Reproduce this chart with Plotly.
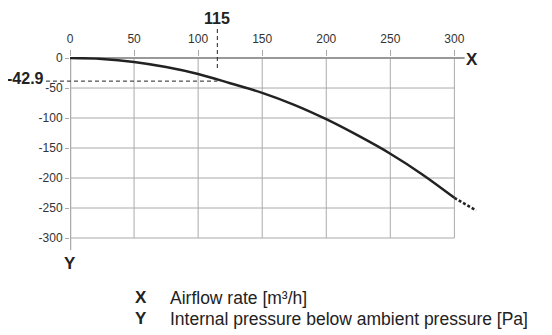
import plotly.graph_objects as go

# curve
flow = [0, 25, 50, 75, 100, 125, 150, 175, 200, 225, 250, 275, 300]
pressure = [0, -1.5, -6.5, -15, -26.6, -42, -58, -78, -102, -129.5, -159.5, -194, -233]
flow_ext = [300, 317]
pressure_ext = [-233, -254]

x_ticks = [0, 50, 100, 150, 200, 250, 300]
y_ticks = [0, -50, -100, -150, -200, -250, -300]

mark_x = 115
mark_y = -38.5  # where the dashed line sits in the drawing
mark_x_text = "115"
mark_y_text = "-42.9"

legend_rows = [("X", "Airflow rate [m³/h]"), ("Y", "Internal pressure below ambient pressure [Pa]")]

FONT = "Liberation Sans, Arial, sans-serif"
GRID = "#aaaaaa"
INK = "#222222"

W, H = 552, 335
OFF = 8  # page body margin in the browser
left, top = 70 - OFF, 57 - OFF
plot_w, plot_h = 409.6, 193.2
right, bottom = W - left - plot_w, H - top - plot_h


def px(x, y):
    """page pixel -> paper coords"""
    return (x - OFF - left) / plot_w, 1 - (y - OFF - top) / plot_h


def label(x, y, text, size, bold=True, xanchor="center"):
    ax, ay = px(x, y)
    fig.add_annotation(x=ax, y=ay, xref="paper", yref="paper", xanchor=xanchor, yanchor="middle",
                       text=text, showarrow=False, borderpad=0,
                       font=dict(size=size, color=INK, family=FONT, weight="bold" if bold else "normal"))


fig = go.Figure()
fig.add_trace(go.Scatter(x=flow, y=pressure, mode="lines",
                         line=dict(color=INK, width=2.5, shape="spline")))
fig.add_trace(go.Scatter(x=flow_ext, y=pressure_ext, mode="lines",
                         line=dict(color=INK, width=2.5, dash="3px,2px")))

# grid limited to the 0..300 box
for xv in x_ticks[1:]:
    fig.add_shape(type="line", x0=xv, x1=xv, y0=0, y1=min(y_ticks),
                  line=dict(color=GRID, width=1), layer="below")
for yv in y_ticks[1:]:
    fig.add_shape(type="line", x0=0, x1=max(x_ticks), y0=yv, y1=yv,
                  line=dict(color=GRID, width=1), layer="below")
# axis lines
fig.add_shape(type="line", x0=0, x1=308, y0=0, y1=0, line=dict(color="#999999", width=2), layer="below")
fig.add_shape(type="line", x0=0, x1=0, y0=0, y1=-320, line=dict(color="#aaaaaa", width=2.5), layer="below")

# marker dashed lines (paper y for the part above the plot)
_, vy0 = px(0, 29)
_, vy1 = px(0, 71)
fig.add_shape(type="line", xref="x", yref="paper", x0=mark_x, x1=mark_x, y0=vy0, y1=vy1,
              line=dict(color=INK, width=1, dash="4px,3px"))
hx0, _ = px(46, 0)
fig.add_shape(type="line", xref="paper", yref="y", x0=hx0, x1=mark_x / 320, y0=mark_y, y1=mark_y,
              line=dict(color=INK, width=1, dash="4px,3px"))

label(217, 18, mark_x_text, 16)
label(45, 79, mark_y_text, 16, xanchor="right")
label(465, 60, "X", 17, xanchor="left")
label(70, 264, "Y", 17)

for i, (key, desc) in enumerate(legend_rows):
    label(134, 298 + i * 21, key, 17, xanchor="left")
    label(169, 298 + i * 21, desc, 17.5, bold=False, xanchor="left")

fig.update_layout(
    width=W, height=H,
    margin=dict(l=left, r=right, t=top, b=bottom, pad=0),
    plot_bgcolor="white", paper_bgcolor="white",
    showlegend=False,
    font=dict(family=FONT, size=12, color="#333333"),
    xaxis=dict(range=[0, 320], side="top", tickvals=x_ticks, ticktext=[str(v) for v in x_ticks],
               showgrid=False, zeroline=False, showline=False, ticks="outside", ticklen=6,
               tickcolor=GRID, tickwidth=1, ticklabelstandoff=2),
    yaxis=dict(range=[-320, 1.7], tickvals=y_ticks, ticktext=[str(v) for v in y_ticks],
               showgrid=False, zeroline=False, showline=False, ticks="outside", ticklen=4,
               tickcolor=GRID, tickwidth=1),
)

fig.write_html("out.html")
